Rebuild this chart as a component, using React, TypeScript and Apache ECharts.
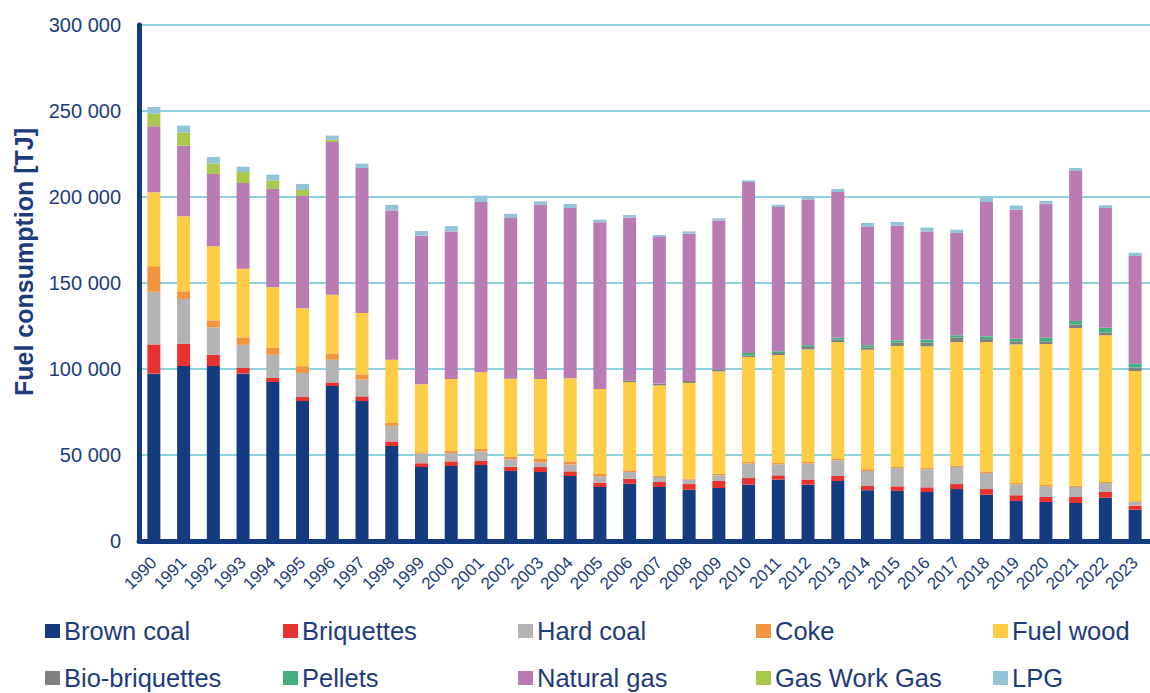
import React, { useEffect, useRef } from "react";
import * as echarts from "echarts";

const years = ["1990","1991","1992","1993","1994","1995","1996","1997","1998","1999","2000","2001","2002","2003","2004","2005","2006","2007","2008","2009","2010","2011","2012","2013","2014","2015","2016","2017","2018","2019","2020","2021","2022","2023"];

const brownCoal = [97300,101700,101700,97300,92400,81400,90100,81400,55200,43000,43600,44200,40700,40100,37800,31400,33300,31400,29800,30800,32800,35700,32800,34900,29500,29100,28500,30200,26900,23300,22700,22100,25200,18200];
const briquettes = [17000,13000,6600,3300,2400,2300,2100,2700,2700,2200,2700,2300,2500,2900,2700,2500,2900,2900,3300,4100,3800,2500,2900,2900,2500,2700,2700,2900,3300,3300,2900,3500,3300,2300];
const hardCoal = [30600,26000,15900,13500,13500,14000,13200,9700,9000,5600,4900,5600,4300,2700,3900,3700,3900,2900,2600,3300,8400,6400,9300,9100,8700,10600,10500,9900,9300,6300,6200,5800,5200,2200];
const coke = [14900,4500,4100,4300,3900,3900,3700,3100,1700,800,1100,1400,1300,2000,1900,1400,1000,800,500,900,900,700,900,800,1000,600,700,800,1000,800,800,800,600,400];
const fuelWood = [43000,43600,43000,39900,35300,33700,34100,35700,36800,39500,41900,44600,45600,46500,48300,49400,51300,52500,55700,59500,61100,62800,65500,68000,69500,70400,70800,71900,75200,80600,81900,91600,85300,75700];
const bioBriquettes = [0,0,0,0,0,0,0,0,0,0,0,0,0,0,0,0,800,1000,1100,1000,900,1200,1400,1400,1400,1900,2100,2500,1700,1800,1600,2000,1700,2000];
const pellets = [0,0,0,0,0,0,0,0,0,0,0,0,0,0,0,0,0,0,0,0,1400,1000,1000,1100,1200,1400,1800,1400,1600,1500,2100,2100,2700,2300];
const naturalGas = [38400,41000,42100,49800,57200,65300,88800,84300,86800,86400,85800,99000,93400,101200,99000,96900,94800,85200,85700,86800,99400,83900,84700,84700,68800,66600,62900,59500,78100,75000,77900,87200,69600,62600];
const gasWorkGas = [7200,7600,6000,6400,5000,3500,1300,0,0,0,0,0,0,0,0,0,0,0,0,0,0,0,0,0,0,0,0,0,0,0,0,0,0,0];
const lpg = [3900,4100,3900,3100,3300,3500,2400,2500,3200,2700,3100,3700,2500,2100,2300,1500,1500,1200,1300,1200,1000,1300,1900,1800,2300,2200,2200,1900,2500,2400,1600,1800,1600,1900];

const seriesNames = ["Brown coal","Briquettes","Hard coal","Coke","Fuel wood","Bio-briquettes","Pellets","Natural gas","Gas Work Gas","LPG"];
const seriesData = [brownCoal, briquettes, hardCoal, coke, fuelWood, bioBriquettes, pellets, naturalGas, gasWorkGas, lpg];
const colors = ["#143a80","#e8322f","#b3b3b3","#f39440","#ffcd45","#808080","#44b07e","#b97bb2","#aac84e","#93c3d6"];

const TXT = "#1d3c7c";
const FONT = "Liberation Sans, Arial, sans-serif";

export default function App() {
  const ref = useRef<HTMLDivElement>(null);
  useEffect(() => {
    document.body.style.margin = "0";
    const chart = echarts.init(ref.current!, null, { renderer: "svg" });
    const legendX = [45, 283, 518, 756, 993];
    const legendY = [618, 665];
    const legends = seriesNames.map((n, i) => ({
      data: [n],
      left: legendX[i % 5],
      top: legendY[Math.floor(i / 5)],
      itemWidth: 15,
      itemHeight: 14,
      icon: "rect",
      itemGap: 0,
      padding: 0,
      textStyle: { color: TXT, fontSize: 25.5, fontFamily: FONT, padding: [0, 0, 0, -1] },
    }));
    chart.setOption({
      animation: false,
      color: colors,
      textStyle: { fontFamily: FONT },
      grid: { left: 139, width: 1016, top: 25, height: 516 },
      legend: legends,
      xAxis: {
        type: "category",
        data: years,
        axisLine: { show: true, lineStyle: { color: "#143a80", width: 5 } },
        axisTick: { show: false },
        axisLabel: { interval: 0, rotate: 45, color: TXT, fontSize: 17, fontFamily: FONT, margin: 19 },
      },
      yAxis: {
        type: "value",
        min: 0,
        max: 300000,
        interval: 50000,
        axisLine: { show: true, lineStyle: { color: "#143a80", width: 5 } },
        axisTick: { show: false },
        splitLine: { lineStyle: { color: "#8fd2de", width: 2 } },
        axisLabel: {
          color: TXT,
          fontSize: 20,
          fontFamily: FONT,
          margin: 18,
          formatter: (v: number) => v.toLocaleString("en-US").replace(/,/g, " "),
        },
      },
      graphic: [
        {
          type: "text",
          x: 24,
          y: 262,
          rotation: Math.PI / 2,
          style: {
            text: "Fuel consumption [TJ]",
            fill: TXT,
            fontSize: 25,
            fontWeight: "bold",
            fontFamily: FONT,
            align: "center",
            verticalAlign: "middle",
          },
        },
      ],
      series: seriesNames.map((n, i) => ({
        name: n,
        type: "bar",
        stack: "total",
        barWidth: 13,
        data: seriesData[i],
        itemStyle: { color: colors[i] },
      })),
    });
    return () => chart.dispose();
  }, []);
  return <div ref={ref} style={{ width: 1150, height: 693 }} />;
}
